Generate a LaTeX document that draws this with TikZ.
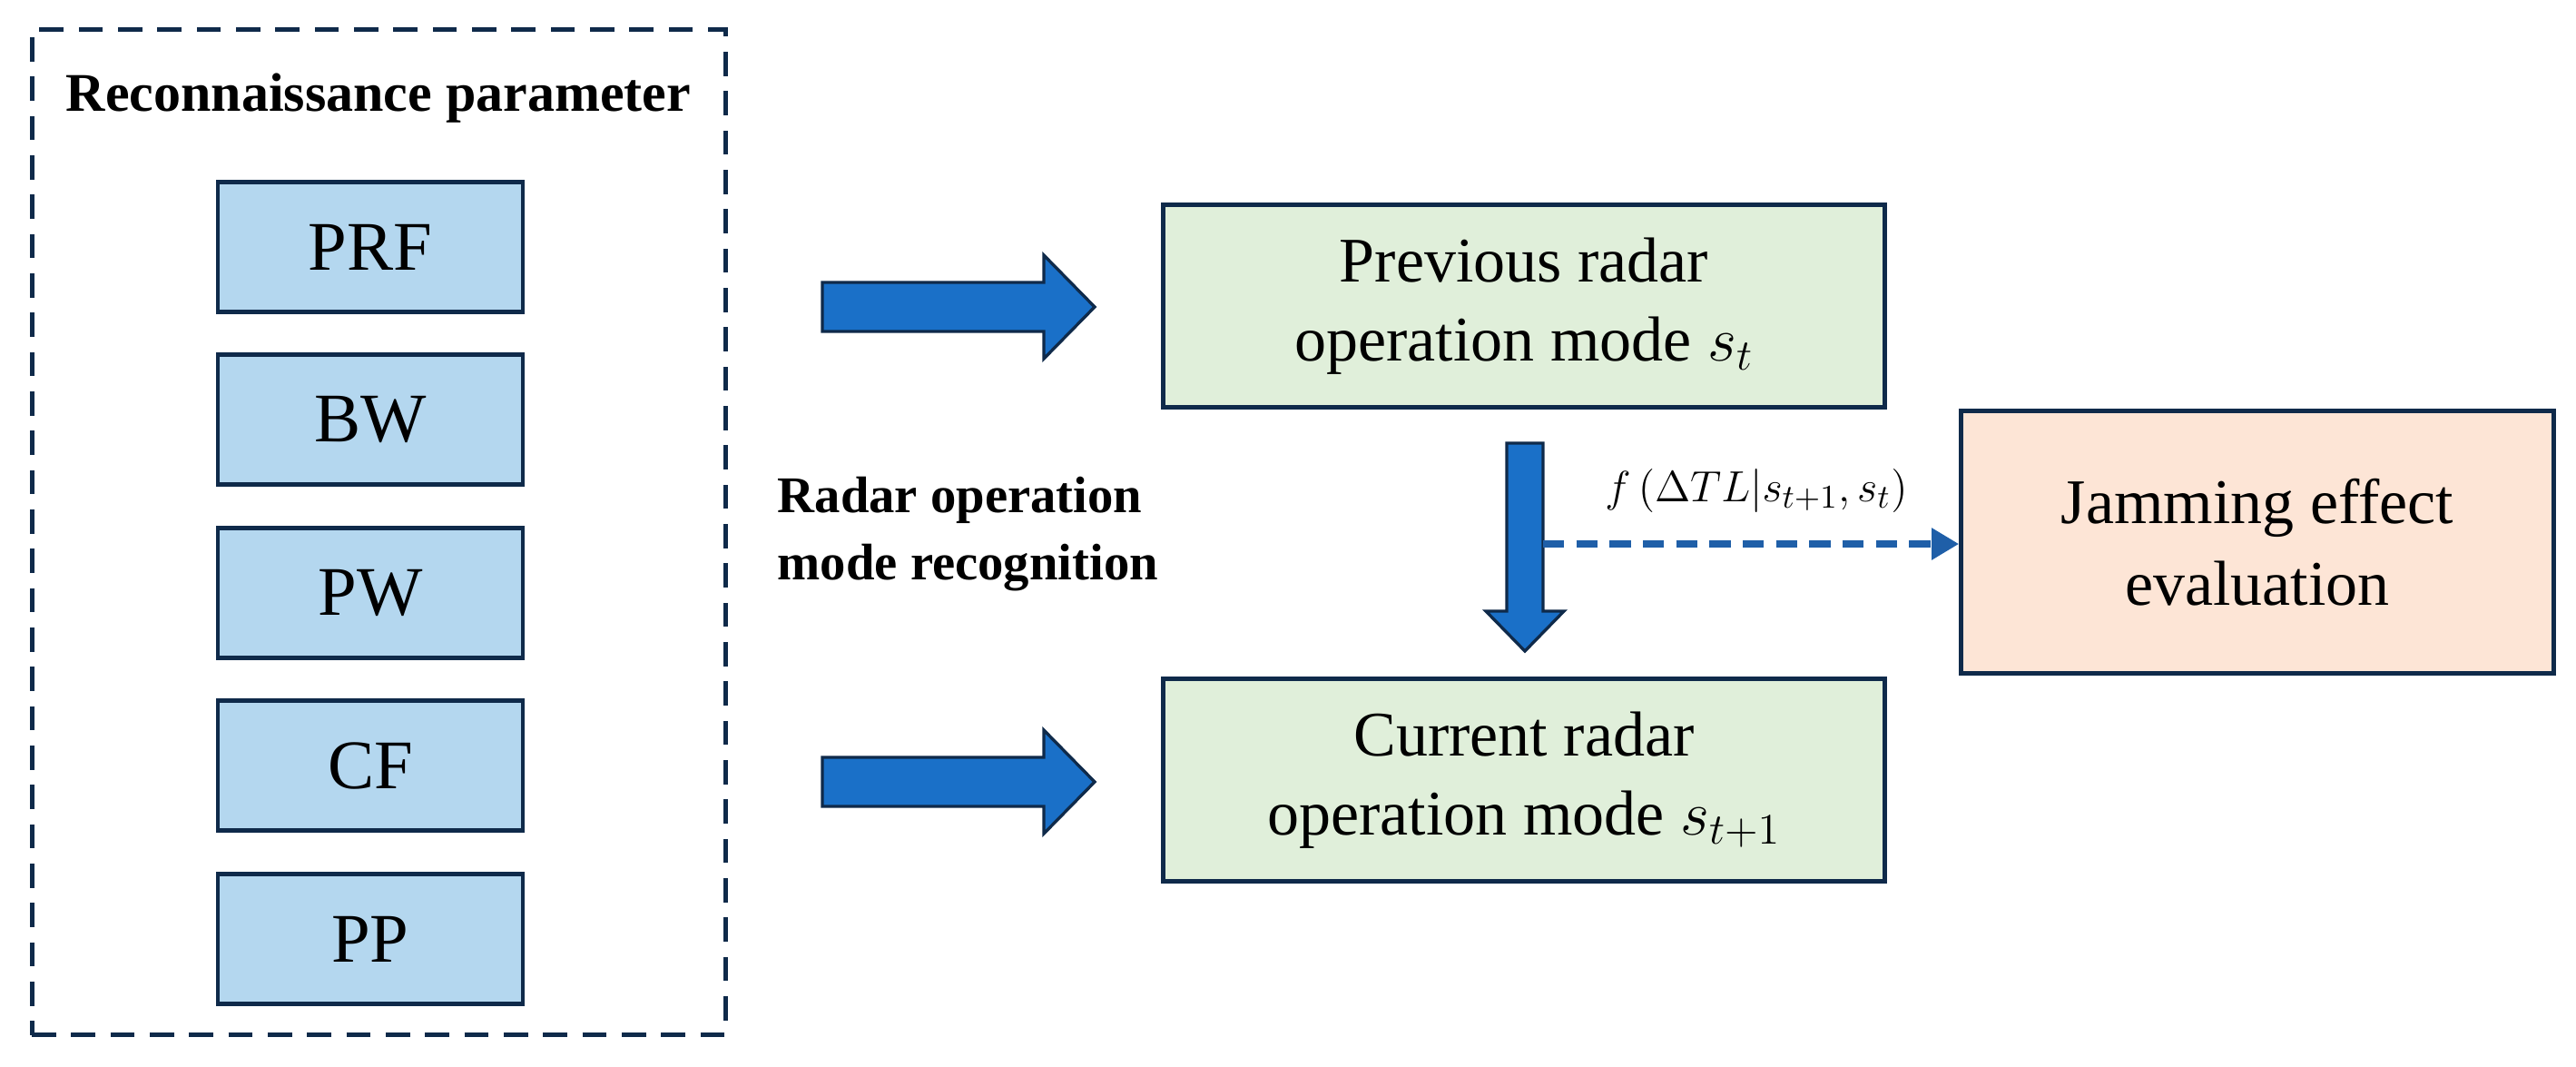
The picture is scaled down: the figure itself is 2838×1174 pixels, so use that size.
\documentclass[tikz,border=0pt]{standalone}
\usepackage{fontspec}
\setmainfont{Liberation Serif}
\usetikzlibrary{shapes.arrows,arrows.meta}
\definecolor{navy}{HTML}{0F2A4A}
\definecolor{pblue}{HTML}{B4D7EF}
\definecolor{pgreen}{HTML}{E0EFDA}
\definecolor{ppeach}{HTML}{FDE5D6}
\definecolor{abl}{HTML}{1A70C8}
\definecolor{dbl}{HTML}{1F5FA8}
\begin{document}
\begin{tikzpicture}[x=0.3pt,y=-0.3pt,
  pbox/.style={draw=navy,line width=1.4pt,fill=pblue,minimum width=100.8pt,minimum height=42.9pt,font=\fontsize{23}{26}\selectfont,inner sep=0pt},
  gbox/.style={draw=navy,line width=1.4pt,fill=pgreen,minimum width=238.5pt,minimum height=66.9pt,align=center,font=\fontsize{21}{26}\selectfont,inner sep=0pt},
  bigarrow/.style={draw=navy,line width=1pt,fill=abl}]
\useasboundingbox (0,0) rectangle (2838,1174);
\node[draw=navy,dash pattern=on 8pt off 5pt,line width=1.5pt,minimum width=229.2pt,minimum height=332.1pt,inner sep=0pt] (frame) at (417,586) {};
\node[font=\fontsize{18}{20}\selectfont\bfseries] (title) at (417,108) {Reconnaissance parameter};
\node[pbox] (prf) at (408,272) {PRF};
\node[pbox] (bw) at (408,462) {BW};
\node[pbox] (pw) at (408,653) {PW};
\node[pbox] (cf) at (408,843) {CF};
\node[pbox] (pp) at (408,1034) {PP};
\node[gbox] (prev) at (1679,337) {Previous radar\\operation mode $s_t$};
\node[gbox] (cur) at (1679,859) {Current radar\\operation mode $s_{t+1}$};
\node[draw=navy,line width=1.4pt,fill=ppeach,minimum width=195.9pt,minimum height=86.7pt,align=center,font=\fontsize{21}{27}\selectfont,inner sep=0pt] (jam) at (2487,597) {Jamming effect\\evaluation};
\node[font=\fontsize{17}{22}\selectfont\bfseries,align=left,anchor=west] (rec) at (845,588) {Radar operation\\mode recognition};
% right arrows
\draw[bigarrow] (906,311) -- (1150,311) -- (1150,281) -- (1206,338) -- (1150,395) -- (1150,365) -- (906,365) -- cycle;
\draw[bigarrow] (906,834) -- (1150,834) -- (1150,804) -- (1206,861) -- (1150,918) -- (1150,888) -- (906,888) -- cycle;
% down arrow
\draw[bigarrow] (1660,488) -- (1700,488) -- (1700,673) -- (1723,673) -- (1680,717) -- (1637,673) -- (1660,673) -- cycle;
\coordinate (ds) at (1700,599);
\draw[dbl,line width=2.2pt,dash pattern=on 7pt off 4pt,-{Triangle[length=9pt,width=10pt]}] (ds) -- (jam.west|-ds);
\node[font=\fontsize{15}{18}\selectfont] (fx) at (1935,540) {$f\left(\Delta TL\middle|s_{t+1},s_t\right)$};
\end{tikzpicture}
\end{document}
